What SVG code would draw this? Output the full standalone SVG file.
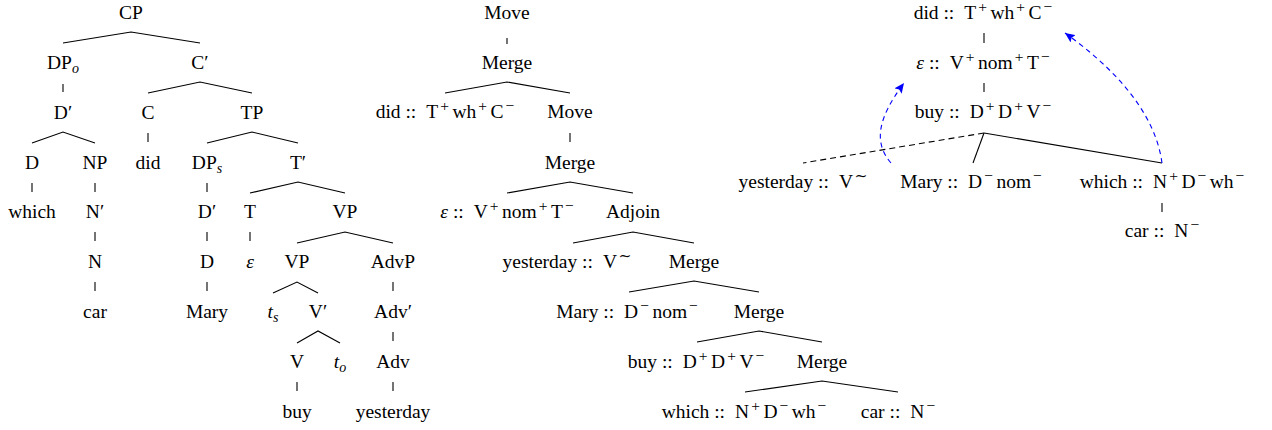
<svg xmlns="http://www.w3.org/2000/svg" width="1272" height="430" viewBox="0 0 1272 430">
<style>
.t{font-family:'Liberation Serif','Tinos','Times New Roman','DejaVu Serif',serif;font-size:19.5px;text-anchor:middle;fill:#000}
.sp{font-size:15.5px}
.sb{font-size:14px;font-style:italic}
.i{font-style:italic}
.e{stroke:#000;stroke-width:1.1;fill:none}
.d{stroke:#000;stroke-width:1.1;fill:none;stroke-dasharray:6,4}
.b{stroke:#0000ff;stroke-width:1.1;fill:none;stroke-dasharray:5,4}
</style>
<defs>
<marker id="ah" markerUnits="userSpaceOnUse" markerWidth="11" markerHeight="9" refX="10" refY="4.5" orient="auto">
<path d="M0,0 L10,4.5 L0,9 L2,4.5 z" fill="#0000ff"/>
</marker>
</defs>

<g id="connectors">
<polyline class="e" points="63,43 131,32 200,43"/>
<polyline class="e" points="148,93 200,82 252,93"/>
<polyline class="e" points="32,143 63,132 95,143"/>
<polyline class="e" points="207,143 252,132 298,143"/>
<polyline class="e" points="250,193 298,182 345,193"/>
<polyline class="e" points="297,243 345,232 393,243"/>
<polyline class="e" points="273,293 297,282 318,293"/>
<polyline class="e" points="297,343 318,331 340,343"/>
<line class="e" x1="63" y1="84" x2="63" y2="92"/>
<line class="e" x1="148" y1="133" x2="148" y2="142"/>
<line class="e" x1="32" y1="183" x2="32" y2="192"/>
<line class="e" x1="95" y1="183" x2="95" y2="192"/>
<line class="e" x1="95" y1="232" x2="95" y2="241"/>
<line class="e" x1="95" y1="282" x2="95" y2="291"/>
<line class="e" x1="207" y1="183" x2="207" y2="192"/>
<line class="e" x1="207" y1="232" x2="207" y2="241"/>
<line class="e" x1="207" y1="282" x2="207" y2="291"/>
<line class="e" x1="250" y1="232" x2="250" y2="241"/>
<line class="e" x1="393" y1="282" x2="393" y2="291"/>
<line class="e" x1="393" y1="332" x2="393" y2="341"/>
<line class="e" x1="393" y1="382" x2="393" y2="391"/>
<line class="e" x1="297" y1="382" x2="297" y2="391"/>
<line class="e" x1="507" y1="38" x2="507" y2="44"/>
<polyline class="e" points="445,93 507,82 570,93"/>
<line class="e" x1="570" y1="133" x2="570" y2="142"/>
<polyline class="e" points="507,193 570,182 633,193"/>
<polyline class="e" points="573,243 633,232 694,243"/>
<polyline class="e" points="629,292 694,281 759,292"/>
<polyline class="e" points="697,342 759,331 822,342"/>
<polyline class="e" points="745,392 822,381 898,392"/>
<line class="e" x1="984" y1="33" x2="984" y2="43"/>
<line class="e" x1="984" y1="83" x2="984" y2="92"/>
<line class="d" x1="984" y1="133" x2="803" y2="163"/>
<line class="e" x1="984" y1="133" x2="973" y2="163"/>
<line class="e" x1="984" y1="133" x2="1162" y2="163"/>
<line class="e" x1="1162" y1="203" x2="1162" y2="212"/>
<path class="b" d="M891,163 C873,142 878,118 904,83" marker-end="url(#ah)"/>
<path class="b" d="M1162,163 C1155,110 1110,65 1065,33" marker-end="url(#ah)"/>
</g>

<g id="left-tree">
<g id="n-CP"><text class="t" x="131" y="19">CP</text></g>
<g id="n-DPo"><text class="t" x="63" y="69">DP<tspan class="sb" dy="4">o</tspan></text></g>
<g id="n-Cbar"><text class="t" x="200" y="69">C′</text></g>
<g id="n-Dbar1"><text class="t" x="63" y="119">D′</text></g>
<g id="n-C"><text class="t" x="148" y="119">C</text></g>
<g id="n-TP"><text class="t" x="252" y="119">TP</text></g>
<g id="n-D1"><text class="t" x="32" y="169">D</text></g>
<g id="n-NP"><text class="t" x="95" y="169">NP</text></g>
<g id="n-did"><text class="t" x="148" y="169">did</text></g>
<g id="n-DPs"><text class="t" x="207" y="169">DP<tspan class="sb" dy="4">s</tspan></text></g>
<g id="n-Tbar"><text class="t" x="298" y="169">T′</text></g>
<g id="n-which"><text class="t" x="32" y="218">which</text></g>
<g id="n-Nbar"><text class="t" x="95" y="218">N′</text></g>
<g id="n-Dbar2"><text class="t" x="207" y="218">D′</text></g>
<g id="n-T"><text class="t" x="250" y="218">T</text></g>
<g id="n-VP1"><text class="t" x="345" y="218">VP</text></g>
<g id="n-N"><text class="t" x="95" y="268">N</text></g>
<g id="n-D2"><text class="t" x="207" y="268">D</text></g>
<g id="n-eps"><text class="t i" x="250" y="268">ε</text></g>
<g id="n-VP2"><text class="t" x="297" y="268">VP</text></g>
<g id="n-AdvP"><text class="t" x="393" y="268">AdvP</text></g>
<g id="n-car"><text class="t" x="95" y="318">car</text></g>
<g id="n-Mary"><text class="t" x="207" y="318">Mary</text></g>
<g id="n-ts"><text class="t" x="273" y="318"><tspan class="i">t</tspan><tspan class="sb" dy="4">s</tspan></text></g>
<g id="n-Vbar"><text class="t" x="318" y="318">V′</text></g>
<g id="n-Advbar"><text class="t" x="393" y="318">Adv′</text></g>
<g id="n-V"><text class="t" x="297" y="368">V</text></g>
<g id="n-to"><text class="t" x="340" y="368"><tspan class="i">t</tspan><tspan class="sb" dy="4">o</tspan></text></g>
<g id="n-Adv"><text class="t" x="393" y="368">Adv</text></g>
<g id="n-buy"><text class="t" x="297" y="418">buy</text></g>
<g id="n-yesterday"><text class="t" x="393" y="418">yesterday</text></g>
</g>

<g id="middle-tree">
<g id="m-Move1"><text class="t" x="507" y="19">Move</text></g>
<g id="m-Merge1"><text class="t" x="507" y="69">Merge</text></g>
<g id="m-did"><text class="t" x="445" y="118">did ::<tspan dx="10">T</tspan><tspan class="sp" dx="2" dy="-7.5">+</tspan><tspan dx="3.5" dy="7.5">wh</tspan><tspan class="sp" dx="2" dy="-7.5">+</tspan><tspan dx="3.5" dy="7.5">C</tspan><tspan class="sp" dx="2" dy="-7.5">−</tspan></text></g>
<g id="m-Move2"><text class="t" x="570" y="118">Move</text></g>
<g id="m-Merge2"><text class="t" x="570" y="169">Merge</text></g>
<g id="m-eps"><text class="t" x="507" y="218"><tspan class="i">ε</tspan> ::<tspan dx="10">V</tspan><tspan class="sp" dx="2" dy="-7.5">+</tspan><tspan dx="3.5" dy="7.5">nom</tspan><tspan class="sp" dx="2" dy="-7.5">+</tspan><tspan dx="3.5" dy="7.5">T</tspan><tspan class="sp" dx="2" dy="-7.5">−</tspan></text></g>
<g id="m-Adjoin"><text class="t" x="633" y="218">Adjoin</text></g>
<g id="m-yesterday"><text class="t" x="567" y="268">yesterday ::<tspan dx="10">V</tspan><tspan class="sp" dx="1.5" dy="-7.5">∼</tspan></text></g>
<g id="m-Merge3"><text class="t" x="694" y="268">Merge</text></g>
<g id="m-Mary"><text class="t" x="627" y="318">Mary ::<tspan dx="10">D</tspan><tspan class="sp" dx="2" dy="-7.5">−</tspan><tspan dx="3.5" dy="7.5">nom</tspan><tspan class="sp" dx="2" dy="-7.5">−</tspan></text></g>
<g id="m-Merge4"><text class="t" x="759" y="318">Merge</text></g>
<g id="m-buy"><text class="t" x="696" y="368">buy ::<tspan dx="10">D</tspan><tspan class="sp" dx="2" dy="-7.5">+</tspan><tspan dx="3.5" dy="7.5">D</tspan><tspan class="sp" dx="2" dy="-7.5">+</tspan><tspan dx="3.5" dy="7.5">V</tspan><tspan class="sp" dx="2" dy="-7.5">−</tspan></text></g>
<g id="m-Merge5"><text class="t" x="822" y="368">Merge</text></g>
<g id="m-which"><text class="t" x="744" y="418">which ::<tspan dx="10">N</tspan><tspan class="sp" dx="2" dy="-7.5">+</tspan><tspan dx="3.5" dy="7.5">D</tspan><tspan class="sp" dx="2" dy="-7.5">−</tspan><tspan dx="3.5" dy="7.5">wh</tspan><tspan class="sp" dx="2" dy="-7.5">−</tspan></text></g>
<g id="m-car"><text class="t" x="898" y="418">car ::<tspan dx="10">N</tspan><tspan class="sp" dx="2" dy="-7.5">−</tspan></text></g>
</g>

<g id="right-tree">
<g id="r-did"><text class="t" x="983" y="19">did ::<tspan dx="10">T</tspan><tspan class="sp" dx="2" dy="-7.5">+</tspan><tspan dx="3.5" dy="7.5">wh</tspan><tspan class="sp" dx="2" dy="-7.5">+</tspan><tspan dx="3.5" dy="7.5">C</tspan><tspan class="sp" dx="2" dy="-7.5">−</tspan></text></g>
<g id="r-eps"><text class="t" x="983" y="69"><tspan class="i">ε</tspan> ::<tspan dx="10">V</tspan><tspan class="sp" dx="2" dy="-7.5">+</tspan><tspan dx="3.5" dy="7.5">nom</tspan><tspan class="sp" dx="2" dy="-7.5">+</tspan><tspan dx="3.5" dy="7.5">T</tspan><tspan class="sp" dx="2" dy="-7.5">−</tspan></text></g>
<g id="r-buy"><text class="t" x="983" y="118">buy ::<tspan dx="10">D</tspan><tspan class="sp" dx="2" dy="-7.5">+</tspan><tspan dx="3.5" dy="7.5">D</tspan><tspan class="sp" dx="2" dy="-7.5">+</tspan><tspan dx="3.5" dy="7.5">V</tspan><tspan class="sp" dx="2" dy="-7.5">−</tspan></text></g>
<g id="r-yesterday"><text class="t" x="803" y="188">yesterday ::<tspan dx="10">V</tspan><tspan class="sp" dx="1.5" dy="-7.5">∼</tspan></text></g>
<g id="r-Mary"><text class="t" x="971" y="188">Mary ::<tspan dx="10">D</tspan><tspan class="sp" dx="2" dy="-7.5">−</tspan><tspan dx="3.5" dy="7.5">nom</tspan><tspan class="sp" dx="2" dy="-7.5">−</tspan></text></g>
<g id="r-which"><text class="t" x="1162" y="188">which ::<tspan dx="10">N</tspan><tspan class="sp" dx="2" dy="-7.5">+</tspan><tspan dx="3.5" dy="7.5">D</tspan><tspan class="sp" dx="2" dy="-7.5">−</tspan><tspan dx="3.5" dy="7.5">wh</tspan><tspan class="sp" dx="2" dy="-7.5">−</tspan></text></g>
<g id="r-car"><text class="t" x="1162" y="237">car ::<tspan dx="10">N</tspan><tspan class="sp" dx="2" dy="-7.5">−</tspan></text></g>
</g>
</svg>
